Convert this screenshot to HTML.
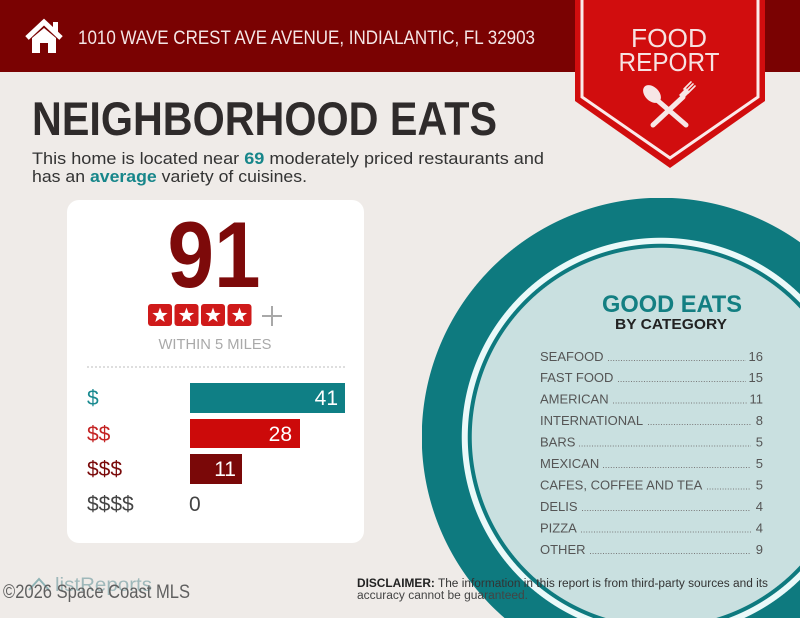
<!DOCTYPE html>
<html>
<head>
<meta charset="utf-8">
<style>
html,body{margin:0;padding:0;background:#efebe8;width:800px;height:618px;overflow:hidden;position:relative;}
#circ{position:absolute;left:422px;top:198px;width:378px;height:420px;
background:radial-gradient(circle at 239px 239px,#c9e0e0 0,#c9e0e0 189px,#0e7a7f 189.5px,#0e7a7f 193px,#eaf9f9 193.5px,#eaf9f9 199px,#0e7a7f 199.5px,#0e7a7f 239px,rgba(239,235,232,0) 239.5px);}
svg{display:block;position:absolute;left:0;top:0;}
text{font-family:"Liberation Sans",sans-serif;}
</style>
</head>
<body>
<div id="circ"></div>
<svg width="800" height="618" viewBox="0 0 800 618" xmlns="http://www.w3.org/2000/svg">
<defs>
<path id="star" d="M0,-8 L1.94,-2.67 L7.61,-2.47 L3.14,1.02 L4.7,6.47 L0,3.3 L-4.7,6.47 L-3.14,1.02 L-7.61,-2.47 L-1.94,-2.67 Z" fill="#ffffff"/>
</defs>

<!-- header -->
<rect x="0" y="0" width="800" height="72" fill="#7a0202"/>
<polyline points="27,38 44,22 61,38" fill="none" stroke="#fff" stroke-width="5"/>
<rect x="53" y="22" width="5" height="10" fill="#fff"/>
<path d="M32,38 L44,28 L56,38 V53 H48 V43 H40 V53 H32 Z" fill="#fff"/>
<text x="78" y="44" font-size="19.5" fill="#f4e6e6" textLength="457" lengthAdjust="spacingAndGlyphs">1010 WAVE CREST AVE AVENUE, INDIALANTIC, FL 32903</text>

<!-- badge -->
<polygon points="575,0 765,0 765,101 670,168 575,101" fill="#d10d0e"/>
<polyline points="582,0 582,97 670,158 758,97 758,0" fill="none" stroke="#fbeaea" stroke-width="3"/>
<text x="669" y="47" font-size="26" fill="#f7e2e2" text-anchor="middle" textLength="76" lengthAdjust="spacingAndGlyphs">FOOD</text>
<text x="669" y="71" font-size="26" fill="#f7e2e2" text-anchor="middle" textLength="101" lengthAdjust="spacingAndGlyphs">REPORT</text>
<g fill="#f7e6e6" stroke="#f7e6e6" stroke-linecap="round">
<line x1="657" y1="100" x2="686" y2="125" stroke-width="5"/>
<ellipse cx="652" cy="94" rx="7" ry="10.5" transform="rotate(-45 652 94)" stroke="none"/>
<line x1="683" y1="97" x2="653" y2="125" stroke-width="5"/>
<path d="M679,95 L686,88 L690,92 L683,99 Z" stroke="none"/>
<line x1="684" y1="89" x2="691" y2="82" stroke-width="1.6"/>
<line x1="686" y1="91" x2="693" y2="84" stroke-width="1.6"/>
<line x1="688" y1="93" x2="695" y2="86" stroke-width="1.6"/>
</g>

<!-- title -->
<text x="32" y="135" font-size="47" font-weight="bold" fill="#2f2b2b" textLength="465" lengthAdjust="spacingAndGlyphs">NEIGHBORHOOD EATS</text>
<text x="32" y="164" font-size="17" fill="#333" textLength="512" lengthAdjust="spacingAndGlyphs">This home is located near <tspan font-weight="bold" fill="#17868a">69</tspan> moderately priced restaurants and</text>
<text x="32" y="182" font-size="17" fill="#333" textLength="275" lengthAdjust="spacingAndGlyphs">has an <tspan font-weight="bold" fill="#17868a">average</tspan> variety of cuisines.</text>

<!-- card -->
<rect x="67" y="200" width="297" height="343" rx="12" fill="#ffffff"/>
<text x="214" y="287" font-size="94" font-weight="bold" fill="#7d0a0a" text-anchor="middle" textLength="93" lengthAdjust="spacingAndGlyphs">91</text>
<g>
<rect x="148" y="304" width="24" height="22" rx="3" fill="#cf1a1a"/>
<rect x="174.5" y="304" width="24" height="22" rx="3" fill="#cf1a1a"/>
<rect x="201" y="304" width="24" height="22" rx="3" fill="#cf1a1a"/>
<rect x="227.5" y="304" width="24" height="22" rx="3" fill="#cf1a1a"/>
<use href="#star" x="160" y="315.5"/>
<use href="#star" x="186.5" y="315.5"/>
<use href="#star" x="213" y="315.5"/>
<use href="#star" x="239.5" y="315.5"/>
</g>
<line x1="262" y1="316" x2="282" y2="316" stroke="#a8a8a8" stroke-width="2"/>
<line x1="272" y1="306" x2="272" y2="326" stroke="#a8a8a8" stroke-width="2"/>
<text x="215" y="349" font-size="14.5" fill="#a9a9a9" text-anchor="middle" textLength="113" lengthAdjust="spacingAndGlyphs">WITHIN 5 MILES</text>
<line x1="87" y1="367" x2="345" y2="367" stroke="#bdbdbd" stroke-width="1" stroke-dasharray="2 2"/>

<rect x="190" y="383" width="155" height="30" fill="#0f7f85"/>
<rect x="190" y="419" width="110" height="29" fill="#cc0a0a"/>
<rect x="190" y="454" width="52" height="30" fill="#7a0808"/>
<text x="87" y="405" font-size="21" fill="#1a8a90">$</text>
<text x="87" y="441" font-size="21" fill="#c42323">$$</text>
<text x="87" y="476" font-size="21" fill="#7a0a0a">$$$</text>
<text x="87" y="511" font-size="21" fill="#444">$$$$</text>
<text x="338" y="405" font-size="21" fill="#ffffff" text-anchor="end">41</text>
<text x="292" y="441" font-size="21" fill="#ffffff" text-anchor="end">28</text>
<text x="236" y="476" font-size="21" fill="#ffffff" text-anchor="end">11</text>
<text x="189" y="511" font-size="21" fill="#444">0</text>

<text x="672" y="312" font-size="24" font-weight="bold" fill="#137f82" text-anchor="middle" textLength="140" lengthAdjust="spacingAndGlyphs">GOOD EATS</text>
<text x="671" y="329" font-size="15" font-weight="bold" fill="#222" text-anchor="middle" textLength="112" lengthAdjust="spacingAndGlyphs">BY CATEGORY</text>

<g font-size="13" fill="#555">
<text x="540" y="361">SEAFOOD</text><text x="763" y="361" text-anchor="end">16</text>
<text x="540" y="382">FAST FOOD</text><text x="763" y="382" text-anchor="end">15</text>
<text x="540" y="403.5">AMERICAN</text><text x="763" y="403.5" text-anchor="end">11</text>
<text x="540" y="425">INTERNATIONAL</text><text x="763" y="425" text-anchor="end">8</text>
<text x="540" y="446.5">BARS</text><text x="763" y="446.5" text-anchor="end">5</text>
<text x="540" y="468">MEXICAN</text><text x="763" y="468" text-anchor="end">5</text>
<text x="540" y="489.5">CAFES, COFFEE AND TEA</text><text x="763" y="489.5" text-anchor="end">5</text>
<text x="540" y="511">DELIS</text><text x="763" y="511" text-anchor="end">4</text>
<text x="540" y="532.5">PIZZA</text><text x="763" y="532.5" text-anchor="end">4</text>
<text x="540" y="554">OTHER</text><text x="763" y="554" text-anchor="end">9</text>
</g>
<g stroke="#7a7a7a" stroke-width="1" stroke-dasharray="1 1.6">
<line x1="608" y1="360.5" x2="746" y2="360.5"/>
<line x1="618" y1="381.5" x2="746" y2="381.5"/>
<line x1="613" y1="403" x2="747" y2="403"/>
<line x1="648" y1="424.5" x2="751" y2="424.5"/>
<line x1="579" y1="446" x2="751" y2="446"/>
<line x1="603" y1="467.5" x2="751" y2="467.5"/>
<line x1="707" y1="489" x2="751" y2="489"/>
<line x1="582" y1="510.5" x2="751" y2="510.5"/>
<line x1="581" y1="532" x2="751" y2="532"/>
<line x1="590" y1="553.5" x2="751" y2="553.5"/>
</g>

<!-- disclaimer -->
<text x="357" y="587" font-size="11.5" fill="#333" textLength="411" lengthAdjust="spacingAndGlyphs"><tspan font-weight="bold" fill="#222">DISCLAIMER:</tspan> The information in this report is from third-party sources and its</text>
<text x="357" y="599" font-size="11.5" fill="#444" textLength="171" lengthAdjust="spacingAndGlyphs">accuracy cannot be guaranteed.</text>

<!-- footer left -->
<path d="M29,590 L39,579 L49,590" fill="none" stroke="#8fb3b5" stroke-width="2"/>
<text x="55" y="591" font-size="19" fill="#9fb8ba" textLength="97" lengthAdjust="spacingAndGlyphs">listReports</text>
<text x="3" y="598" font-size="19" fill="#5f5f5f" textLength="187" lengthAdjust="spacingAndGlyphs">©2026 Space Coast MLS</text>
</svg>
</body>
</html>
